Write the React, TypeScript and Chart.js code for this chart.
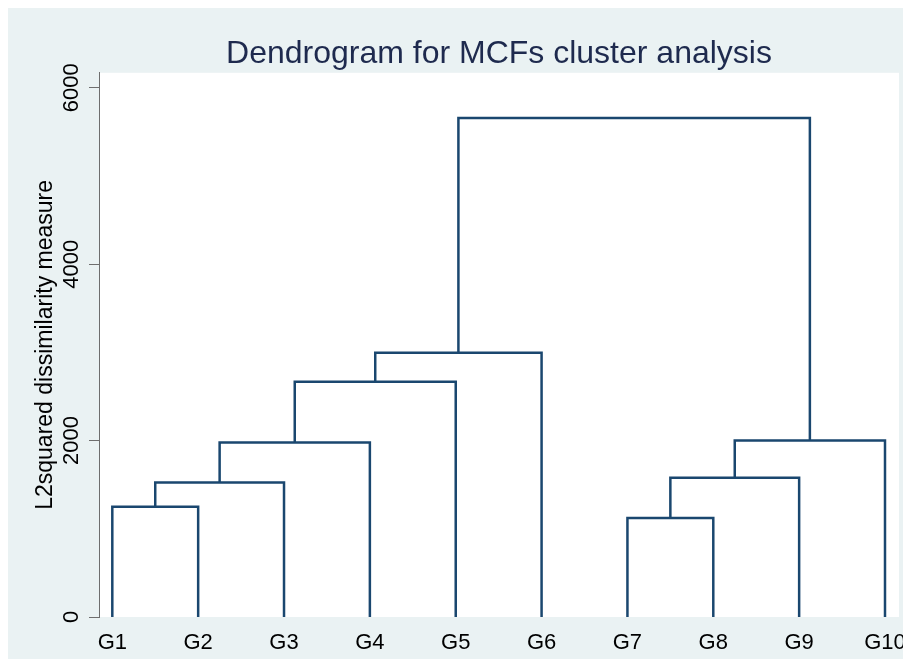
import React, { useEffect, useRef } from "react";
import { Chart, registerables } from "chart.js";

Chart.register(...registerables);

// Leaves (categories) and their positions on the x axis
const leaves = ["G1", "G2", "G3", "G4", "G5", "G6", "G7", "G8", "G9", "G10"];
const leafPositions = [1, 2, 3, 4, 5, 6, 7, 8, 9, 10];

// Merges: cluster C{i+1} = mergeLeft[i] + mergeRight[i] at mergeHeights[i]
const mergeLeft = ["G1", "C1", "C2", "C3", "C4", "G7", "C6", "C7", "C5"];
const mergeRight = ["G2", "G3", "G4", "G5", "G6", "G8", "G9", "G10", "C8"];
const mergeHeights = [1250, 1525, 1978, 2668, 2997, 1122, 1580, 2000, 5658];

// Y axis ticks
const yTicks = [0, 2000, 4000, 6000];
const yTickLabels = ["0", "2000", "4000", "6000"];

const TITLE = "Dendrogram for MCFs cluster analysis";
const Y_TITLE = "L2squared dissimilarity measure";

const LINE_COLOR = "#1a476f";
const AXIS_COLOR = "#6e6e6e";
const BG = "#eaf2f3";
const FONT = "Arial, 'Liberation Sans', Helvetica, sans-serif";

function buildDatasets() {
  const nodes: Record<string, { x: number; h: number }> = {};
  leaves.forEach((name, i) => {
    nodes[name] = { x: leafPositions[i], h: 0 };
  });
  const datasets: any[] = [];
  mergeHeights.forEach((h, i) => {
    const L = nodes[mergeLeft[i]];
    const R = nodes[mergeRight[i]];
    nodes["C" + (i + 1)] = { x: (L.x + R.x) / 2, h };
    datasets.push({
      data: [
        { x: L.x, y: L.h },
        { x: L.x, y: h },
        { x: R.x, y: h },
        { x: R.x, y: R.h },
      ],
      showLine: true,
      borderColor: LINE_COLOR,
      backgroundColor: LINE_COLOR,
      borderWidth: 2.5,
      pointRadius: 0,
      tension: 0,
      fill: false,
      borderJoinStyle: "miter",
      borderCapStyle: "butt",
    });
  });
  return datasets;
}

const plotBgPlugin = {
  id: "plotBg",
  beforeDraw(chart: any) {
    const { ctx, chartArea } = chart;
    if (!chartArea) return;
    ctx.save();
    ctx.fillStyle = "#ffffff";
    ctx.fillRect(
      chartArea.left,
      chartArea.top,
      chartArea.right - chartArea.left,
      chartArea.bottom - chartArea.top
    );
    ctx.restore();
  },
};

const yLabelPlugin = {
  id: "yRotLabels",
  afterDraw(chart: any) {
    const s = chart.scales.y;
    const ctx = chart.ctx;
    ctx.save();
    ctx.fillStyle = "#000000";
    ctx.font = `22px ${FONT}`;
    ctx.textAlign = "center";
    ctx.textBaseline = "middle";
    yTicks.forEach((v, i) => {
      const py = s.getPixelForValue(v);
      ctx.save();
      ctx.translate(s.right - 27, py);
      ctx.rotate(-Math.PI / 2);
      ctx.fillText(yTickLabels[i], 0, 0);
      ctx.restore();
    });
    ctx.restore();
  },
};

export default function App() {
  const ref = useRef<HTMLCanvasElement | null>(null);

  useEffect(() => {
    if (!ref.current) return;
    const chart = new Chart(ref.current, {
      type: "scatter",
      data: { datasets: buildDatasets() },
      options: {
        animation: false,
        responsive: false,
        devicePixelRatio: 1,
        layout: { padding: { left: 0, right: 12, top: 0, bottom: 0 } },
        plugins: {
          legend: { display: false },
          tooltip: { enabled: false },
          title: {
            display: true,
            text: TITLE,
            fullSize: false,
            color: "#1e2a4e",
            font: { family: FONT, size: 32, weight: "normal", lineHeight: 1.15 },
            padding: { top: 28, bottom: 0 },
          },
        },
        scales: {
          x: {
            type: "linear",
            min: 0.845,
            max: 10.163,
            afterBuildTicks: (s: any) => {
              s.ticks = leafPositions.map((v) => ({ value: v }));
            },
            afterFit: (s: any) => {
              s.height = 50;
            },
            ticks: {
              autoSkip: false,
              maxRotation: 0,
              minRotation: 0,
              padding: 5,
              color: "#000000",
              font: { family: FONT, size: 22 },
              callback: (v: any) => {
                const idx = leafPositions.indexOf(Number(v));
                return idx >= 0 ? leaves[idx] : "";
              },
            },
            grid: { display: false },
            border: { display: false },
          },
          y: {
            type: "linear",
            min: 0,
            max: 6170,
            afterBuildTicks: (s: any) => {
              s.ticks = yTicks.map((v) => ({ value: v }));
            },
            afterFit: (s: any) => {
              s.width = 91;
            },
            ticks: { display: false },
            grid: {
              display: true,
              drawOnChartArea: false,
              drawTicks: true,
              tickLength: 10,
              color: AXIS_COLOR,
              lineWidth: 1,
            },
            border: { display: true, color: AXIS_COLOR, width: 1 },
            title: {
              display: true,
              text: Y_TITLE,
              color: "#000000",
              font: { family: FONT, size: 23, lineHeight: 1.2 },
              padding: { top: 23.5, bottom: 0 },
            },
          },
        },
      },
      plugins: [plotBgPlugin, yLabelPlugin],
    } as any);
    return () => chart.destroy();
  }, []);

  return (
    <div style={{ width: 903, height: 659, marginBottom: -8, background: BG, overflow: "hidden" }}>
      <canvas ref={ref} width={903} height={659} style={{ display: "block" }} />
    </div>
  );
}
